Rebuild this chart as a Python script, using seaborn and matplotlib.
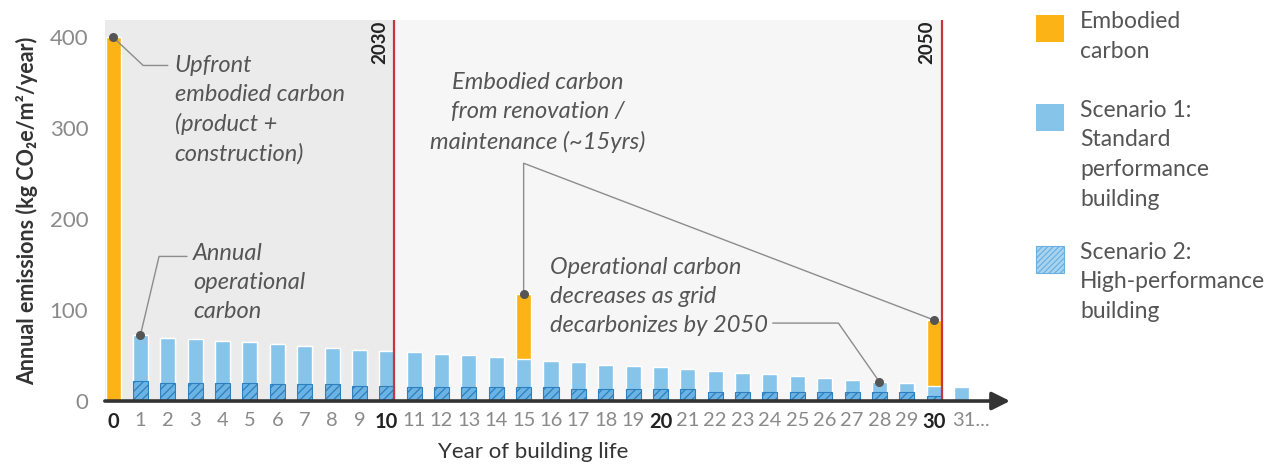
import pandas as pd
import matplotlib.pyplot as plt
from matplotlib.patches import Rectangle
from matplotlib.transforms import ScaledTranslation
import seaborn as sns

# --- DATA ---
years = list(range(32))
op_standard = [0, 72.5, 69, 68, 66, 64.5, 62.5, 60, 58, 56, 55.5, 54, 52, 50.5, 48, 46,
               44, 42.5, 40, 39, 37, 35, 33, 31, 29.5, 27, 25, 23, 21, 19.5, 16.5, 15.5]
op_high = [0, 22, 19.5, 19.5, 19.5, 19.5, 19, 19, 19, 16.5, 16.5, 15, 15, 15, 15, 15,
           15, 13, 13, 13, 13, 13, 10, 10, 10, 10, 10, 10, 10, 10, 5, 0]
embodied = [400] + [0] * 14 + [72] + [0] * 14 + [72.5] + [0]
tick_labels = [str(y) for y in years[:-1]] + ["31..."]
bold_years = [0, 10, 20, 30]
milestones = {10: "2030", 30: "2050"}

df = pd.DataFrame({"year": years, "op1": op_standard, "op2": op_high, "emb": embodied})
df["total"] = df["op1"] + df["emb"]

ORANGE = "#FBB316"
BLUE = "#86C4EA"
HATCH_FACE = "#6AB3E3"
HATCH_EDGE = "#2F7FBF"
RED = "#C9343F"
GREY_TXT = "#555555"

sns.set_theme(style="white")
plt.rcParams["font.family"] = ["Lato", "DejaVu Sans"]
plt.rcParams["hatch.linewidth"] = 0.9

fig = plt.figure(figsize=(12.85, 4.65), dpi=100)
ax = fig.add_axes([0.0816, 0.1376, 0.7044, 0.8194])

# background bands
ax.axvspan(-0.3, 10.28, color="#EBEBEC", zorder=0, lw=0)
ax.axvspan(10.28, 30.28, color="#F6F6F6", zorder=0, lw=0)

# stacked bars: embodied on top of scenario 1, scenario 2 overlaid from the base
bw = 0.55
sns.barplot(data=df, x="year", y="total", color=ORANGE, saturation=1, width=bw,
            errorbar=None, ax=ax, zorder=2)
sns.barplot(data=df, x="year", y="op1", color=BLUE, saturation=1, width=bw,
            errorbar=None, ax=ax, zorder=3)
sns.barplot(data=df, x="year", y="op2", color=HATCH_FACE, saturation=1, width=bw,
            errorbar=None, ax=ax, zorder=4, hatch="////", edgecolor=HATCH_EDGE, linewidth=0.8)

ax.set_xlim(-0.3, 32.77)
ax.set_ylim(0, 419)
for s in ax.spines.values():
    s.set_visible(False)

# milestone lines
for yr, lab in milestones.items():
    ax.axvline(yr + 0.28, color=RED, lw=1.6, zorder=5)
    ax.text(yr + 0.05, 418, lab, rotation=90, ha="right", va="top", fontsize=13.5,
            fontweight="bold", color="#222222", zorder=6)

# x axis arrow
ax.annotate("", xy=(32.77, 0), xytext=(-0.3, 0), xycoords="data",
            arrowprops=dict(arrowstyle="-|>,head_length=0.9,head_width=0.45", color="#333333",
                            lw=2.6, shrinkA=0, shrinkB=0), annotation_clip=False, zorder=7)

# ticks
ax.set_yticks([0, 100, 200, 300, 400])
ax.tick_params(axis="y", length=0, pad=12, labelsize=16, labelcolor="#8A8A8A")
ax.set_xticks(years)
ax.set_xticklabels(tick_labels)
ax.tick_params(axis="x", length=0, pad=8, labelsize=14.5)
for t, y in zip(ax.get_xticklabels(), years):
    if y in bold_years:
        t.set_fontweight("bold")
        t.set_color("#222222")
    else:
        t.set_color("#8A8A8A")
last = ax.get_xticklabels()[-1]
last.set_horizontalalignment("left")
last.set_transform(last.get_transform() + ScaledTranslation(-0.09, 0, fig.dpi_scale_trans))

ax.set_ylabel("Annual emissions (kg CO\u2082e/m\u00b2/year)", fontsize=15.5, fontweight="bold",
              color="#333333", labelpad=8)
ax.set_xlabel("Year of building life", fontsize=16, color="#333333")
ax.xaxis.set_label_coords(0.473, -0.108)

# annotations
dots_x = [0, 1, 15, 30, 28]
dots_y = [df.total[0], df.op1[1], df.total[15], df.total[30], df.op1[28]]
ax.scatter(dots_x, dots_y, s=30, color="#555555", zorder=8)

line_kw = dict(color="#8C8C8C", lw=1.0, zorder=7)
ax.plot([0, 1.1, 2.0], [400, 369, 369], **line_kw)
ax.plot([1, 1.68, 2.7], [df.op1[1], 159, 159], **line_kw)
ax.plot([15, 15, 30], [df.total[15], 261.5, df.total[30]], **line_kw)
ax.plot([24.1, 26.5, 28], [85.7, 85.7, df.op1[28]], **line_kw)

ann_kw = dict(fontsize=17, style="italic", color=GREY_TXT, linespacing=1.47, zorder=8)
ax.text(2.25, 381, "Upfront\nembodied carbon\n(product +\nconstruction)", ha="left", va="top", **ann_kw)
ax.text(2.92, 174, "Annual\noperational\ncarbon", ha="left", va="top", **ann_kw)
ax.text(15.5, 361.5, "Embodied carbon\nfrom renovation /\nmaintenance (~15yrs)", ha="center", va="top", **ann_kw)
ax.text(15.97, 158, "Operational carbon\ndecreases as grid\ndecarbonizes by 2050", ha="left", va="top", **ann_kw)

# legend (drawn by hand so the swatches sit at the top of each label)
leg = [
    ("Embodied\ncarbon", dict(facecolor=ORANGE, edgecolor="none"), 42),
    ("Scenario 1:\nStandard\nperformance\nbuilding", dict(facecolor=BLUE, edgecolor="none"), 131),
    ("Scenario 2:\nHigh-performance\nbuilding", dict(facecolor="#A9D4EF", edgecolor="#6AB0E0",
                                                  hatch="//////", lw=0.8), 273),
]
for text, style, bottom_px in leg:
    fig.add_artist(Rectangle((1036 / 1285, 1 - bottom_px / 465), 28 / 1285, 27 / 465,
                             transform=fig.transFigure, **style))
    fig.text(1080 / 1285, 1 - (bottom_px - 31) / 465, text, ha="left", va="top", fontsize=16.5,
             color=GREY_TXT, linespacing=1.5)

fig.savefig("out.png", dpi=100)
